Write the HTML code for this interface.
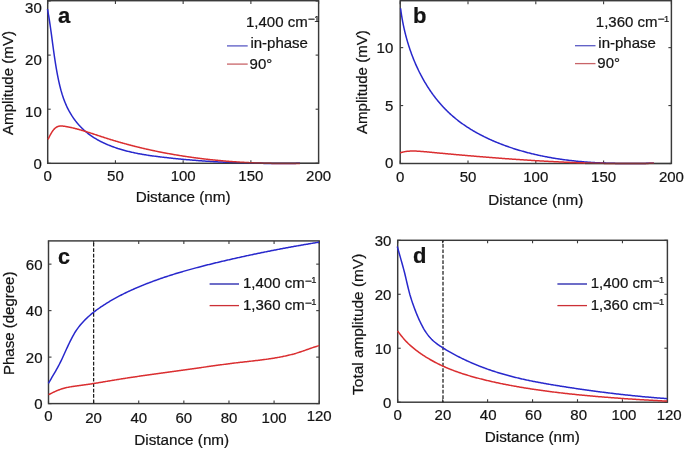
<!DOCTYPE html><html><head><meta charset="utf-8"><style>html,body{margin:0;padding:0;background:#fff;width:685px;height:449px;overflow:hidden}svg{display:block;filter:blur(0.3px)}text{font-family:"Liberation Sans", sans-serif;fill:#141414;stroke:#141414;stroke-width:0.22px}</style></head><body>
<svg width="685" height="449" viewBox="0 0 685 449">
<rect width="685" height="449" fill="#fff"/>
<g stroke="#3a3a3a" stroke-width="1.10" fill="none">
<line x1="47.70" y1="163.30" x2="47.70" y2="160.30"/>
<line x1="47.70" y1="1.00" x2="47.70" y2="4.00"/>
<line x1="115.43" y1="163.30" x2="115.43" y2="160.30"/>
<line x1="115.43" y1="1.00" x2="115.43" y2="4.00"/>
<line x1="183.15" y1="163.30" x2="183.15" y2="160.30"/>
<line x1="183.15" y1="1.00" x2="183.15" y2="4.00"/>
<line x1="250.88" y1="163.30" x2="250.88" y2="160.30"/>
<line x1="250.88" y1="1.00" x2="250.88" y2="4.00"/>
<line x1="318.60" y1="163.30" x2="318.60" y2="160.30"/>
<line x1="318.60" y1="1.00" x2="318.60" y2="4.00"/>
<line x1="47.70" y1="163.30" x2="50.70" y2="163.30"/>
<line x1="318.60" y1="163.30" x2="315.60" y2="163.30"/>
<line x1="47.70" y1="109.20" x2="50.70" y2="109.20"/>
<line x1="318.60" y1="109.20" x2="315.60" y2="109.20"/>
<line x1="47.70" y1="55.10" x2="50.70" y2="55.10"/>
<line x1="318.60" y1="55.10" x2="315.60" y2="55.10"/>
<line x1="47.70" y1="1.00" x2="50.70" y2="1.00"/>
<line x1="318.60" y1="1.00" x2="315.60" y2="1.00"/>
</g>
<rect x="47.70" y="0.70" width="270.90" height="162.60" fill="none" stroke="#3a3a3a" stroke-width="1.45"/>
<path d="M47.49 9.08L47.64 9.94L47.80 10.81L47.96 11.67L48.11 12.53L48.26 13.40L48.41 14.26L48.56 15.13L48.70 15.99L48.84 16.86L48.98 17.72L49.12 18.59L49.26 19.45L49.39 20.32L49.53 21.19L49.66 22.05L49.79 22.92L49.92 23.79L50.05 24.66L50.17 25.52L50.30 26.39L50.43 27.26L50.55 28.13L50.67 29.00L50.79 29.87L50.91 30.73L51.03 31.60L51.15 32.47L51.27 33.34L51.39 34.21L51.51 35.08L51.62 35.95L51.74 36.82L51.86 37.69L51.97 38.56L52.09 39.43L52.21 40.30L52.32 41.17L52.44 42.05L52.55 42.92L52.67 43.79L52.79 44.66L52.90 45.53L53.02 46.40L53.14 47.27L53.26 48.15L53.37 49.02L53.49 49.89L53.61 50.76L53.73 51.63L53.86 52.51L53.98 53.38L54.10 54.25L54.23 55.12L54.35 56.00L54.48 56.87L54.61 57.74L54.74 58.61L54.87 59.49L55.00 60.36L55.13 61.23L55.27 62.10L55.40 62.98L55.54 63.85L55.68 64.72L55.83 65.59L55.97 66.47L56.12 67.34L56.26 68.21L56.41 69.09L56.57 69.96L56.72 70.83L56.88 71.70L57.04 72.58L57.20 73.45L57.36 74.32L57.53 75.19L57.70 76.07L57.87 76.94L58.05 77.81L58.23 78.68L58.41 79.55L58.59 80.43L58.78 81.30L58.97 82.17L59.17 83.03L59.37 83.90L59.57 84.77L59.78 85.64L59.99 86.50L60.21 87.36L60.43 88.22L60.66 89.08L60.89 89.94L61.12 90.80L61.37 91.65L61.61 92.50L61.87 93.35L62.12 94.20L62.39 95.04L62.66 95.88L62.94 96.72L63.22 97.56L63.51 98.39L63.81 99.22L64.11 100.04L64.42 100.87L64.74 101.69L65.06 102.50L65.40 103.31L65.74 104.12L66.09 104.92L66.44 105.72L66.81 106.52L67.18 107.31L67.56 108.10L67.95 108.88L68.35 109.65L68.75 110.43L69.17 111.19L69.59 111.96L70.02 112.71L70.46 113.46L70.91 114.21L71.37 114.95L71.83 115.69L72.31 116.41L72.79 117.14L73.28 117.86L73.78 118.57L74.28 119.27L74.80 119.97L75.32 120.66L75.85 121.35L76.39 122.03L76.93 122.70L77.49 123.37L78.05 124.03L78.62 124.68L79.20 125.33L79.79 125.96L80.38 126.60L80.98 127.22L81.59 127.83L82.21 128.44L82.83 129.04L83.46 129.64L84.10 130.22L84.75 130.80L85.41 131.37L86.07 131.93L86.74 132.48L87.42 133.02L88.10 133.56L88.79 134.09L89.49 134.61L90.20 135.12L90.91 135.62L91.63 136.12L92.35 136.60L93.08 137.08L93.82 137.56L94.56 138.02L95.31 138.48L96.07 138.93L96.82 139.37L97.59 139.80L98.36 140.23L99.13 140.65L99.91 141.06L100.70 141.47L101.48 141.87L102.28 142.26L103.07 142.65L103.87 143.03L104.68 143.40L105.49 143.76L106.30 144.12L107.11 144.47L107.93 144.82L108.75 145.16L109.57 145.49L110.40 145.82L111.23 146.14L112.06 146.45L112.89 146.76L113.73 147.07L114.57 147.36L115.41 147.66L116.25 147.94L117.09 148.22L117.93 148.50L118.78 148.76L119.62 149.03L120.47 149.29L121.32 149.54L122.17 149.79L123.02 150.03L123.87 150.27L124.73 150.50L125.58 150.73L126.44 150.95L127.29 151.17L128.15 151.39L129.01 151.60L129.87 151.80L130.73 152.00L131.59 152.20L132.45 152.39L133.31 152.58L134.17 152.77L135.04 152.95L135.90 153.12L136.77 153.30L137.63 153.47L138.50 153.64L139.37 153.80L140.24 153.96L141.11 154.11L141.98 154.27L142.85 154.42L143.72 154.57L144.59 154.71L145.46 154.85L146.33 154.99L147.20 155.13L148.08 155.26L148.95 155.39L149.82 155.52L150.70 155.65L151.57 155.77L152.45 155.89L153.32 156.01L154.20 156.13L155.07 156.25L155.95 156.36L156.83 156.47L157.70 156.58L158.58 156.69L159.45 156.80L160.33 156.91L161.21 157.01L162.08 157.12L162.96 157.22L163.84 157.32L164.71 157.42L165.59 157.52L166.47 157.62L167.34 157.72L168.22 157.82L169.10 157.91L169.97 158.01L170.85 158.10L171.72 158.19L172.60 158.29L173.48 158.38L174.35 158.47L175.23 158.56L176.11 158.65L176.98 158.74L177.86 158.82L178.73 158.91L179.61 158.99L180.49 159.08L181.36 159.16L182.24 159.24L183.12 159.32L183.99 159.41L184.87 159.48L185.74 159.56L186.62 159.64L187.50 159.72L188.37 159.79L189.25 159.87L190.12 159.94L191.00 160.02L191.88 160.09L192.75 160.16L193.63 160.23L194.50 160.30L195.38 160.37L196.26 160.44L197.13 160.51L198.01 160.58L198.89 160.64L199.76 160.71L200.64 160.77L201.51 160.83L202.39 160.90L203.27 160.96L204.14 161.02L205.02 161.08L205.90 161.14L206.77 161.20L207.65 161.26L208.52 161.31L209.40 161.37L210.28 161.42L211.15 161.48L212.03 161.53L212.91 161.58L213.78 161.64L214.66 161.69L215.54 161.74L216.41 161.79L217.29 161.84L218.17 161.88L219.04 161.93L219.92 161.98L220.80 162.02L221.67 162.07L222.55 162.11L223.43 162.16L224.31 162.20L225.18 162.24L226.06 162.28L226.94 162.32L227.81 162.36L228.69 162.40L229.57 162.44L230.45 162.48L231.32 162.51L232.20 162.55L233.08 162.58L233.96 162.62L234.83 162.65L235.71 162.69L236.59 162.72L237.47 162.75L238.35 162.78L239.22 162.81L240.10 162.84L240.98 162.87L241.86 162.90L242.74 162.92L243.62 162.95L244.49 162.98L245.37 163.00L246.25 163.03L247.13 163.05L248.01 163.07L248.89 163.10L249.77 163.12L250.65 163.14L251.53 163.16L252.40 163.18L253.28 163.20L254.16 163.22L255.04 163.23L255.92 163.25L256.80 163.27L257.68 163.28L258.56 163.30L259.44 163.31L260.32 163.33L261.20 163.34L262.08 163.35L262.96 163.36L263.84 163.38L264.72 163.39L265.60 163.40L266.48 163.41L267.37 163.41L268.25 163.42L269.13 163.43L270.01 163.44L270.89 163.44L271.77 163.45L272.65 163.45L273.53 163.46L274.42 163.46L275.30 163.46L276.18 163.47L277.06 163.47L277.94 163.47L278.83 163.47L279.71 163.47L280.59 163.47L281.47 163.47L282.36 163.47L283.24 163.47L284.12 163.46L285.01 163.46L285.89 163.46L286.77 163.45L287.66 163.45L288.54 163.44L289.42 163.44L290.31 163.43L291.19 163.42L292.08 163.41L292.96 163.41L293.85 163.40L294.73 163.39L295.62 163.38L296.50 163.37L297.39 163.36L298.27 163.34L299.16 163.33L300.04 163.32" stroke="#2828cc" stroke-width="1.50" fill="none" stroke-linejoin="round"/>
<path d="M48.00 139.42L48.27 138.88L48.55 138.32L48.84 137.73L49.14 137.14L49.44 136.53L49.76 135.91L50.08 135.28L50.41 134.66L50.76 134.03L51.11 133.40L51.48 132.79L51.85 132.18L52.24 131.58L52.64 131.00L53.05 130.43L53.48 129.89L53.92 129.37L54.37 128.88L54.84 128.42L55.32 128.00L55.81 127.61L56.32 127.26L56.85 126.95L57.39 126.69L57.95 126.48L58.52 126.31L59.11 126.18L59.71 126.09L60.31 126.03L60.93 126.01L61.56 126.01L62.20 126.04L62.84 126.09L63.48 126.16L64.13 126.24L64.78 126.34L65.43 126.45L66.09 126.56L66.74 126.68L67.39 126.80L68.04 126.92L68.69 127.05L69.33 127.18L69.98 127.31L70.63 127.45L71.27 127.59L71.92 127.73L72.56 127.88L73.20 128.03L73.84 128.18L74.48 128.34L75.12 128.50L75.76 128.66L76.40 128.82L77.04 128.99L77.68 129.16L78.31 129.33L78.95 129.51L79.58 129.68L80.22 129.86L80.85 130.04L81.49 130.22L82.12 130.41L82.75 130.59L83.39 130.78L84.02 130.97L84.65 131.16L85.28 131.35L85.91 131.55L86.54 131.74L87.17 131.94L87.80 132.14L88.43 132.34L89.06 132.54L89.69 132.74L90.31 132.94L90.94 133.15L91.57 133.35L92.20 133.56L92.82 133.76L93.45 133.97L94.08 134.17L94.71 134.38L95.33 134.59L95.96 134.80L96.59 135.00L97.21 135.21L97.84 135.42L98.47 135.63L99.09 135.84L99.72 136.04L100.35 136.25L100.98 136.46L101.60 136.67L102.23 136.87L102.86 137.08L103.48 137.28L104.11 137.49L104.74 137.69L105.37 137.89L106.00 138.09L106.63 138.30L107.26 138.50L107.89 138.69L108.52 138.89L109.15 139.09L109.78 139.29L110.41 139.48L111.04 139.68L111.67 139.87L112.30 140.06L112.93 140.25L113.56 140.44L114.19 140.63L114.83 140.82L115.46 141.01L116.09 141.20L116.72 141.39L117.36 141.57L117.99 141.76L118.62 141.94L119.26 142.12L119.89 142.30L120.53 142.48L121.16 142.66L121.79 142.84L122.43 143.02L123.06 143.20L123.70 143.38L124.34 143.55L124.97 143.73L125.61 143.90L126.24 144.07L126.88 144.25L127.52 144.42L128.15 144.59L128.79 144.76L129.43 144.93L130.07 145.09L130.70 145.26L131.34 145.43L131.98 145.59L132.62 145.76L133.26 145.92L133.90 146.08L134.53 146.24L135.17 146.41L135.81 146.57L136.45 146.72L137.09 146.88L137.73 147.04L138.37 147.20L139.01 147.35L139.65 147.51L140.30 147.66L140.94 147.82L141.58 147.97L142.22 148.12L142.86 148.27L143.50 148.42L144.14 148.57L144.79 148.72L145.43 148.86L146.07 149.01L146.71 149.16L147.36 149.30L148.00 149.45L148.64 149.59L149.29 149.73L149.93 149.87L150.58 150.01L151.22 150.15L151.86 150.29L152.51 150.43L153.15 150.57L153.80 150.71L154.44 150.84L155.09 150.98L155.73 151.11L156.38 151.24L157.02 151.38L157.67 151.51L158.32 151.64L158.96 151.77L159.61 151.90L160.26 152.03L160.90 152.16L161.55 152.28L162.20 152.41L162.84 152.54L163.49 152.66L164.14 152.78L164.79 152.91L165.43 153.03L166.08 153.15L166.73 153.27L167.38 153.39L168.03 153.51L168.67 153.63L169.32 153.75L169.97 153.86L170.62 153.98L171.27 154.09L171.92 154.21L172.57 154.32L173.22 154.43L173.87 154.55L174.52 154.66L175.17 154.77L175.82 154.88L176.47 154.99L177.12 155.10L177.77 155.20L178.42 155.31L179.07 155.42L179.72 155.52L180.37 155.63L181.02 155.73L181.67 155.83L182.33 155.93L182.98 156.04L183.63 156.14L184.28 156.24L184.93 156.34L185.59 156.43L186.24 156.53L186.89 156.63L187.54 156.72L188.20 156.82L188.85 156.91L189.50 157.01L190.15 157.10L190.81 157.19L191.46 157.29L192.11 157.38L192.77 157.47L193.42 157.56L194.07 157.65L194.73 157.73L195.38 157.82L196.04 157.91L196.69 157.99L197.34 158.08L198.00 158.16L198.65 158.25L199.31 158.33L199.96 158.41L200.62 158.49L201.27 158.57L201.93 158.65L202.58 158.73L203.24 158.81L203.89 158.89L204.55 158.97L205.20 159.04L205.86 159.12L206.51 159.20L207.17 159.27L207.82 159.34L208.48 159.42L209.13 159.49L209.79 159.56L210.45 159.63L211.10 159.70L211.76 159.77L212.41 159.84L213.07 159.91L213.73 159.98L214.38 160.04L215.04 160.11L215.70 160.18L216.35 160.24L217.01 160.30L217.67 160.37L218.32 160.43L218.98 160.49L219.64 160.55L220.30 160.61L220.95 160.67L221.61 160.73L222.27 160.79L222.92 160.85L223.58 160.91L224.24 160.96L224.90 161.02L225.55 161.08L226.21 161.13L226.87 161.18L227.53 161.24L228.19 161.29L228.84 161.34L229.50 161.39L230.16 161.45L230.82 161.50L231.48 161.54L232.13 161.59L232.79 161.64L233.45 161.69L234.11 161.74L234.77 161.78L235.42 161.83L236.08 161.87L236.74 161.92L237.40 161.96L238.06 162.00L238.72 162.05L239.38 162.09L240.03 162.13L240.69 162.17L241.35 162.21L242.01 162.25L242.67 162.29L243.33 162.32L243.99 162.36L244.65 162.40L245.30 162.43L245.96 162.47L246.62 162.51L247.28 162.54L247.94 162.57L248.60 162.61L249.26 162.64L249.92 162.67L250.58 162.70L251.23 162.73L251.89 162.76L252.55 162.79L253.21 162.82L253.87 162.85L254.53 162.88L255.19 162.90L255.85 162.93L256.51 162.95L257.17 162.98L257.83 163.00L258.48 163.03L259.14 163.05L259.80 163.07L260.46 163.10L261.12 163.12L261.78 163.14L262.44 163.16L263.10 163.18L263.76 163.20L264.42 163.22L265.08 163.23L265.74 163.25L266.39 163.27L267.05 163.28L267.71 163.30L268.37 163.32L269.03 163.33L269.69 163.34L270.35 163.36L271.01 163.37L271.67 163.38L272.33 163.39L272.99 163.41L273.64 163.42L274.30 163.43L274.96 163.44L275.62 163.44L276.28 163.45L276.94 163.46L277.60 163.47L278.26 163.47L278.91 163.48L279.57 163.49L280.23 163.49L280.89 163.50L281.55 163.50L282.21 163.50L282.87 163.51L283.53 163.51L284.18 163.51L284.84 163.51L285.50 163.51L286.16 163.51L286.82 163.51L287.48 163.51L288.13 163.51L288.79 163.51L289.45 163.50L290.11 163.50L290.77 163.50L291.42 163.49L292.08 163.49L292.74 163.48L293.40 163.48L294.06 163.47L294.71 163.47L295.37 163.46L296.03 163.45L296.69 163.44L297.34 163.43L298.00 163.42L298.66 163.41L299.32 163.40L299.97 163.39" stroke="#da2e30" stroke-width="1.50" fill="none" stroke-linejoin="round"/>
<line x1="225" y1="163.30" x2="318" y2="163.30" stroke="#3a3a3a" stroke-width="1.45" opacity="0.6"/>
<g stroke="#3a3a3a" stroke-width="1.10" fill="none">
<line x1="400.20" y1="163.50" x2="400.20" y2="160.50"/>
<line x1="400.20" y1="1.30" x2="400.20" y2="4.30"/>
<line x1="468.00" y1="163.50" x2="468.00" y2="160.50"/>
<line x1="468.00" y1="1.30" x2="468.00" y2="4.30"/>
<line x1="535.80" y1="163.50" x2="535.80" y2="160.50"/>
<line x1="535.80" y1="1.30" x2="535.80" y2="4.30"/>
<line x1="603.60" y1="163.50" x2="603.60" y2="160.50"/>
<line x1="603.60" y1="1.30" x2="603.60" y2="4.30"/>
<line x1="671.40" y1="163.50" x2="671.40" y2="160.50"/>
<line x1="671.40" y1="1.30" x2="671.40" y2="4.30"/>
<line x1="400.20" y1="163.50" x2="403.20" y2="163.50"/>
<line x1="671.40" y1="163.50" x2="668.40" y2="163.50"/>
<line x1="400.20" y1="105.57" x2="403.20" y2="105.57"/>
<line x1="671.40" y1="105.57" x2="668.40" y2="105.57"/>
<line x1="400.20" y1="47.64" x2="403.20" y2="47.64"/>
<line x1="671.40" y1="47.64" x2="668.40" y2="47.64"/>
</g>
<rect x="400.20" y="0.70" width="271.20" height="162.80" fill="none" stroke="#3a3a3a" stroke-width="1.45"/>
<path d="M400.58 8.24L400.68 9.05L400.78 9.87L400.89 10.68L401.00 11.50L401.12 12.31L401.24 13.13L401.36 13.95L401.48 14.76L401.61 15.58L401.74 16.40L401.88 17.21L402.02 18.03L402.16 18.85L402.30 19.66L402.45 20.48L402.60 21.30L402.76 22.12L402.92 22.94L403.08 23.75L403.24 24.57L403.41 25.39L403.58 26.20L403.76 27.02L403.93 27.84L404.12 28.65L404.30 29.47L404.49 30.29L404.68 31.10L404.88 31.92L405.08 32.73L405.28 33.54L405.48 34.36L405.69 35.17L405.90 35.98L406.12 36.80L406.34 37.61L406.56 38.42L406.79 39.23L407.02 40.04L407.25 40.85L407.48 41.65L407.72 42.46L407.97 43.27L408.21 44.07L408.46 44.88L408.72 45.68L408.97 46.48L409.23 47.29L409.50 48.09L409.77 48.89L410.04 49.68L410.31 50.48L410.59 51.28L410.87 52.07L411.15 52.87L411.44 53.66L411.73 54.45L412.03 55.24L412.33 56.03L412.63 56.81L412.94 57.60L413.25 58.38L413.56 59.17L413.88 59.95L414.20 60.73L414.52 61.51L414.85 62.28L415.18 63.06L415.51 63.83L415.85 64.60L416.19 65.37L416.53 66.14L416.88 66.91L417.24 67.67L417.59 68.43L417.95 69.19L418.31 69.95L418.68 70.71L419.05 71.46L419.42 72.22L419.80 72.97L420.18 73.71L420.57 74.46L420.95 75.21L421.35 75.95L421.74 76.69L422.14 77.42L422.54 78.16L422.95 78.89L423.36 79.62L423.77 80.35L424.19 81.08L424.61 81.80L425.04 82.52L425.47 83.24L425.90 83.96L426.33 84.67L426.77 85.38L427.22 86.09L427.66 86.79L428.11 87.50L428.57 88.20L429.03 88.89L429.49 89.59L429.95 90.28L430.42 90.97L430.89 91.65L431.37 92.34L431.85 93.02L432.34 93.69L432.82 94.37L433.32 95.04L433.81 95.71L434.31 96.37L434.81 97.03L435.32 97.69L435.83 98.34L436.34 99.00L436.86 99.65L437.38 100.29L437.91 100.93L438.44 101.57L438.97 102.21L439.51 102.84L440.05 103.47L440.59 104.09L441.14 104.71L441.69 105.33L442.25 105.94L442.81 106.55L443.37 107.16L443.94 107.76L444.51 108.36L445.09 108.96L445.67 109.55L446.25 110.14L446.84 110.72L447.43 111.30L448.02 111.88L448.62 112.45L449.22 113.02L449.83 113.58L450.44 114.14L451.05 114.70L451.67 115.25L452.29 115.80L452.92 116.34L453.55 116.88L454.18 117.42L454.82 117.95L455.46 118.47L456.10 119.00L456.75 119.52L457.40 120.03L458.06 120.54L458.72 121.05L459.38 121.55L460.04 122.05L460.71 122.55L461.38 123.04L462.06 123.53L462.74 124.01L463.42 124.49L464.10 124.97L464.79 125.44L465.48 125.91L466.18 126.37L466.87 126.83L467.57 127.29L468.28 127.74L468.98 128.19L469.69 128.64L470.40 129.08L471.11 129.52L471.83 129.95L472.55 130.38L473.27 130.81L473.99 131.23L474.72 131.65L475.45 132.07L476.18 132.48L476.92 132.89L477.65 133.30L478.39 133.70L479.13 134.10L479.87 134.50L480.62 134.89L481.37 135.28L482.11 135.66L482.87 136.04L483.62 136.42L484.37 136.80L485.13 137.17L485.89 137.54L486.65 137.90L487.41 138.26L488.18 138.62L488.94 138.97L489.71 139.33L490.48 139.67L491.25 140.02L492.02 140.36L492.80 140.70L493.57 141.03L494.35 141.37L495.13 141.70L495.90 142.02L496.69 142.34L497.47 142.66L498.25 142.98L499.03 143.29L499.82 143.60L500.60 143.91L501.39 144.22L502.18 144.52L502.97 144.81L503.76 145.11L504.55 145.40L505.34 145.69L506.13 145.98L506.93 146.26L507.72 146.54L508.51 146.82L509.31 147.09L510.10 147.37L510.90 147.64L511.70 147.90L512.49 148.16L513.29 148.43L514.09 148.68L514.89 148.94L515.69 149.19L516.49 149.44L517.29 149.69L518.09 149.93L518.90 150.17L519.70 150.41L520.50 150.65L521.31 150.88L522.11 151.11L522.92 151.34L523.72 151.56L524.53 151.79L525.34 152.01L526.14 152.22L526.95 152.44L527.76 152.65L528.57 152.86L529.38 153.07L530.19 153.27L531.00 153.48L531.81 153.68L532.62 153.87L533.43 154.07L534.24 154.26L535.06 154.45L535.87 154.64L536.69 154.82L537.50 155.01L538.31 155.19L539.13 155.36L539.95 155.54L540.76 155.71L541.58 155.88L542.40 156.05L543.21 156.22L544.03 156.38L544.85 156.54L545.67 156.70L546.49 156.86L547.31 157.01L548.13 157.17L548.95 157.32L549.77 157.47L550.59 157.61L551.41 157.76L552.24 157.90L553.06 158.04L553.88 158.18L554.70 158.31L555.53 158.44L556.35 158.58L557.18 158.70L558.00 158.83L558.83 158.96L559.65 159.08L560.48 159.20L561.30 159.32L562.13 159.44L562.96 159.55L563.78 159.66L564.61 159.77L565.44 159.88L566.27 159.99L567.10 160.10L567.92 160.20L568.75 160.30L569.58 160.40L570.41 160.50L571.24 160.59L572.07 160.69L572.90 160.78L573.73 160.87L574.56 160.96L575.40 161.05L576.23 161.13L577.06 161.22L577.89 161.30L578.72 161.38L579.55 161.46L580.39 161.53L581.22 161.61L582.05 161.68L582.89 161.75L583.72 161.82L584.55 161.89L585.39 161.96L586.22 162.02L587.06 162.08L587.89 162.15L588.72 162.21L589.56 162.26L590.39 162.32L591.23 162.38L592.06 162.43L592.90 162.48L593.74 162.54L594.57 162.59L595.41 162.63L596.24 162.68L597.08 162.73L597.92 162.77L598.75 162.81L599.59 162.85L600.42 162.89L601.26 162.93L602.10 162.97L602.93 163.01L603.77 163.04L604.61 163.07L605.45 163.10L606.28 163.14L607.12 163.17L607.96 163.19L608.80 163.22L609.63 163.25L610.47 163.27L611.31 163.29L612.15 163.32L612.98 163.34L613.82 163.36L614.66 163.37L615.50 163.39L616.33 163.41L617.17 163.42L618.01 163.44L618.85 163.45L619.69 163.46L620.52 163.47L621.36 163.48L622.20 163.49L623.04 163.50L623.87 163.51L624.71 163.51L625.55 163.52L626.39 163.52L627.22 163.53L628.06 163.53L628.90 163.53L629.74 163.53L630.57 163.53L631.41 163.53L632.25 163.53L633.09 163.52L633.92 163.52L634.76 163.52L635.60 163.51L636.43 163.50L637.27 163.50L638.11 163.49L638.94 163.48L639.78 163.47L640.62 163.46L641.45 163.45L642.29 163.44L643.12 163.43L643.96 163.41L644.79 163.40L645.63 163.39L646.47 163.37L647.30 163.36L648.14 163.34L648.97 163.32L649.80 163.31L650.64 163.29L651.47 163.27L652.31 163.25L653.14 163.23L653.98 163.21" stroke="#2828cc" stroke-width="1.50" fill="none" stroke-linejoin="round"/>
<path d="M400.11 152.91L400.71 152.70L401.32 152.50L401.93 152.32L402.54 152.16L403.15 152.01L403.76 151.87L404.38 151.74L405.00 151.63L405.62 151.53L406.24 151.44L406.86 151.36L407.49 151.29L408.11 151.23L408.74 151.18L409.37 151.14L410.00 151.11L410.63 151.09L411.26 151.07L411.89 151.06L412.52 151.05L413.16 151.05L413.79 151.06L414.42 151.07L415.06 151.08L415.69 151.10L416.33 151.12L416.97 151.15L417.60 151.18L418.24 151.21L418.87 151.25L419.51 151.29L420.15 151.33L420.79 151.38L421.42 151.42L422.06 151.47L422.70 151.52L423.34 151.58L423.98 151.63L424.61 151.69L425.25 151.75L425.89 151.81L426.53 151.87L427.17 151.93L427.81 151.99L428.44 152.05L429.08 152.11L429.72 152.17L430.36 152.23L431.00 152.29L431.63 152.35L432.27 152.41L432.91 152.47L433.55 152.53L434.18 152.59L434.82 152.65L435.46 152.71L436.10 152.77L436.73 152.83L437.37 152.89L438.01 152.95L438.64 153.01L439.28 153.07L439.92 153.13L440.55 153.19L441.19 153.25L441.83 153.30L442.46 153.36L443.10 153.42L443.74 153.48L444.37 153.54L445.01 153.60L445.65 153.66L446.28 153.71L446.92 153.77L447.55 153.83L448.19 153.89L448.83 153.95L449.46 154.00L450.10 154.06L450.73 154.12L451.37 154.18L452.01 154.23L452.64 154.29L453.28 154.35L453.91 154.40L454.55 154.46L455.18 154.52L455.82 154.58L456.46 154.63L457.09 154.69L457.73 154.74L458.36 154.80L459.00 154.86L459.63 154.91L460.27 154.97L460.90 155.02L461.54 155.08L462.18 155.14L462.81 155.19L463.45 155.25L464.08 155.30L464.72 155.36L465.35 155.41L465.99 155.47L466.62 155.52L467.26 155.58L467.89 155.63L468.53 155.69L469.16 155.74L469.80 155.79L470.44 155.85L471.07 155.90L471.71 155.96L472.34 156.01L472.98 156.06L473.61 156.12L474.25 156.17L474.88 156.23L475.52 156.28L476.16 156.33L476.79 156.38L477.43 156.44L478.06 156.49L478.70 156.54L479.33 156.60L479.97 156.65L480.60 156.70L481.24 156.75L481.88 156.80L482.51 156.86L483.15 156.91L483.78 156.96L484.42 157.01L485.05 157.06L485.69 157.11L486.33 157.16L486.96 157.22L487.60 157.27L488.23 157.32L488.87 157.37L489.51 157.42L490.14 157.47L490.78 157.52L491.41 157.57L492.05 157.62L492.69 157.67L493.32 157.72L493.96 157.77L494.59 157.82L495.23 157.87L495.87 157.92L496.50 157.96L497.14 158.01L497.78 158.06L498.41 158.11L499.05 158.16L499.68 158.21L500.32 158.25L500.96 158.30L501.59 158.35L502.23 158.40L502.87 158.44L503.50 158.49L504.14 158.54L504.77 158.59L505.41 158.63L506.05 158.68L506.68 158.73L507.32 158.77L507.96 158.82L508.59 158.86L509.23 158.91L509.87 158.96L510.50 159.00L511.14 159.05L511.78 159.09L512.41 159.14L513.05 159.18L513.69 159.23L514.32 159.27L514.96 159.31L515.60 159.36L516.23 159.40L516.87 159.45L517.51 159.49L518.14 159.53L518.78 159.58L519.42 159.62L520.05 159.66L520.69 159.70L521.33 159.75L521.96 159.79L522.60 159.83L523.24 159.87L523.87 159.92L524.51 159.96L525.15 160.00L525.79 160.04L526.42 160.08L527.06 160.12L527.70 160.16L528.33 160.20L528.97 160.24L529.61 160.28L530.24 160.32L530.88 160.36L531.52 160.40L532.15 160.44L532.79 160.48L533.43 160.52L534.07 160.56L534.70 160.60L535.34 160.63L535.98 160.67L536.61 160.71L537.25 160.75L537.89 160.78L538.53 160.82L539.16 160.86L539.80 160.90L540.44 160.93L541.08 160.97L541.71 161.01L542.35 161.04L542.99 161.08L543.62 161.11L544.26 161.15L544.90 161.18L545.54 161.22L546.17 161.25L546.81 161.29L547.45 161.32L548.09 161.36L548.72 161.39L549.36 161.42L550.00 161.46L550.64 161.49L551.27 161.52L551.91 161.55L552.55 161.59L553.19 161.62L553.82 161.65L554.46 161.68L555.10 161.71L555.74 161.75L556.37 161.78L557.01 161.81L557.65 161.84L558.29 161.87L558.92 161.90L559.56 161.93L560.20 161.96L560.84 161.99L561.47 162.02L562.11 162.05L562.75 162.08L563.39 162.10L564.02 162.13L564.66 162.16L565.30 162.19L565.94 162.22L566.57 162.24L567.21 162.27L567.85 162.30L568.49 162.32L569.13 162.35L569.76 162.38L570.40 162.40L571.04 162.43L571.68 162.45L572.31 162.48L572.95 162.50L573.59 162.53L574.23 162.55L574.87 162.57L575.50 162.60L576.14 162.62L576.78 162.65L577.42 162.67L578.05 162.69L578.69 162.71L579.33 162.74L579.97 162.76L580.61 162.78L581.24 162.80L581.88 162.82L582.52 162.84L583.16 162.86L583.80 162.88L584.43 162.90L585.07 162.92L585.71 162.94L586.35 162.96L586.99 162.98L587.62 163.00L588.26 163.02L588.90 163.04L589.54 163.05L590.18 163.07L590.81 163.09L591.45 163.11L592.09 163.12L592.73 163.14L593.37 163.15L594.00 163.17L594.64 163.19L595.28 163.20L595.92 163.22L596.56 163.23L597.19 163.25L597.83 163.26L598.47 163.27L599.11 163.29L599.75 163.30L600.38 163.31L601.02 163.33L601.66 163.34L602.30 163.35L602.94 163.36L603.58 163.37L604.21 163.39L604.85 163.40L605.49 163.41L606.13 163.42L606.77 163.43L607.40 163.44L608.04 163.45L608.68 163.46L609.32 163.46L609.96 163.47L610.60 163.48L611.23 163.49L611.87 163.50L612.51 163.50L613.15 163.51L613.79 163.52L614.43 163.52L615.06 163.53L615.70 163.53L616.34 163.54L616.98 163.55L617.62 163.55L618.25 163.55L618.89 163.56L619.53 163.56L620.17 163.57L620.81 163.57L621.45 163.57L622.08 163.57L622.72 163.58L623.36 163.58L624.00 163.58L624.64 163.58L625.28 163.58L625.91 163.58L626.55 163.58L627.19 163.58L627.83 163.58L628.47 163.58L629.11 163.58L629.74 163.58L630.38 163.58L631.02 163.57L631.66 163.57L632.30 163.57L632.94 163.57L633.57 163.56L634.21 163.56L634.85 163.55L635.49 163.55L636.13 163.54L636.77 163.54L637.40 163.53L638.04 163.53L638.68 163.52L639.32 163.51L639.96 163.51L640.60 163.50L641.23 163.49L641.87 163.48L642.51 163.48L643.15 163.47L643.79 163.46L644.43 163.45L645.06 163.44L645.70 163.43L646.34 163.42L646.98 163.41L647.62 163.40L648.26 163.39L648.89 163.37L649.53 163.36L650.17 163.35L650.81 163.34L651.45 163.32L652.09 163.31L652.73 163.29L653.36 163.28L654.00 163.26" stroke="#da2e30" stroke-width="1.50" fill="none" stroke-linejoin="round"/>
<line x1="585" y1="163.50" x2="671" y2="163.50" stroke="#3a3a3a" stroke-width="1.45" opacity="0.6"/>
<g stroke="#3a3a3a" stroke-width="1.10" fill="none">
<line x1="48.50" y1="403.60" x2="48.50" y2="400.60"/>
<line x1="48.50" y1="240.90" x2="48.50" y2="243.90"/>
<line x1="93.62" y1="403.60" x2="93.62" y2="400.60"/>
<line x1="93.62" y1="240.90" x2="93.62" y2="243.90"/>
<line x1="138.73" y1="403.60" x2="138.73" y2="400.60"/>
<line x1="138.73" y1="240.90" x2="138.73" y2="243.90"/>
<line x1="183.85" y1="403.60" x2="183.85" y2="400.60"/>
<line x1="183.85" y1="240.90" x2="183.85" y2="243.90"/>
<line x1="228.97" y1="403.60" x2="228.97" y2="400.60"/>
<line x1="228.97" y1="240.90" x2="228.97" y2="243.90"/>
<line x1="274.08" y1="403.60" x2="274.08" y2="400.60"/>
<line x1="274.08" y1="240.90" x2="274.08" y2="243.90"/>
<line x1="319.20" y1="403.60" x2="319.20" y2="400.60"/>
<line x1="319.20" y1="240.90" x2="319.20" y2="243.90"/>
<line x1="48.50" y1="403.60" x2="51.50" y2="403.60"/>
<line x1="319.20" y1="403.60" x2="316.20" y2="403.60"/>
<line x1="48.50" y1="357.11" x2="51.50" y2="357.11"/>
<line x1="319.20" y1="357.11" x2="316.20" y2="357.11"/>
<line x1="48.50" y1="310.63" x2="51.50" y2="310.63"/>
<line x1="319.20" y1="310.63" x2="316.20" y2="310.63"/>
<line x1="48.50" y1="264.14" x2="51.50" y2="264.14"/>
<line x1="319.20" y1="264.14" x2="316.20" y2="264.14"/>
</g>
<rect x="48.50" y="240.90" width="270.70" height="162.70" fill="none" stroke="#3a3a3a" stroke-width="1.45"/>
<line x1="93.62" y1="240.90" x2="93.62" y2="403.60" stroke="#1e1e1e" stroke-width="1.25" stroke-dasharray="3.7 1.7" stroke-dashoffset="3.40"/>
<path d="M48.40 383.48L49.31 381.89L50.21 380.32L51.12 378.76L52.02 377.20L52.93 375.66L53.83 374.11L54.74 372.57L55.64 371.01L56.55 369.44L57.45 367.83L58.36 366.18L59.26 364.48L60.17 362.71L61.07 360.87L61.98 358.97L62.88 357.02L63.79 355.05L64.69 353.05L65.60 351.05L66.50 349.06L67.41 347.09L68.31 345.15L69.22 343.24L70.12 341.38L71.03 339.56L71.93 337.81L72.84 336.12L73.74 334.51L74.65 332.97L75.55 331.52L76.46 330.14L77.36 328.83L78.27 327.59L79.17 326.41L80.08 325.28L80.98 324.20L81.89 323.16L82.79 322.17L83.70 321.21L84.60 320.27L85.51 319.37L86.41 318.49L87.32 317.63L88.22 316.80L89.13 315.99L90.03 315.20L90.94 314.43L91.84 313.68L92.75 312.95L93.65 312.23L94.56 311.54L95.46 310.85L96.37 310.18L97.27 309.52L98.18 308.88L99.08 308.24L99.99 307.61L100.89 306.99L101.80 306.38L102.70 305.78L103.61 305.18L104.51 304.60L105.42 304.02L106.32 303.45L107.23 302.88L108.13 302.32L109.04 301.77L109.94 301.23L110.85 300.70L111.75 300.17L112.66 299.64L113.56 299.13L114.47 298.62L115.37 298.11L116.28 297.62L117.18 297.13L118.09 296.64L118.99 296.16L119.90 295.69L120.80 295.22L121.71 294.76L122.61 294.30L123.52 293.85L124.42 293.40L125.33 292.96L126.23 292.52L127.14 292.09L128.04 291.66L128.95 291.24L129.85 290.82L130.76 290.41L131.66 290.00L132.57 289.59L133.47 289.19L134.38 288.79L135.28 288.40L136.19 288.01L137.09 287.62L138.00 287.24L138.90 286.86L139.81 286.48L140.71 286.10L141.62 285.73L142.52 285.36L143.43 285.00L144.33 284.64L145.24 284.28L146.14 283.92L147.05 283.57L147.95 283.21L148.86 282.87L149.76 282.52L150.67 282.18L151.57 281.84L152.48 281.50L153.38 281.16L154.29 280.83L155.19 280.50L156.10 280.17L157.00 279.85L157.91 279.52L158.81 279.20L159.72 278.89L160.62 278.57L161.53 278.26L162.43 277.95L163.34 277.64L164.24 277.33L165.15 277.03L166.05 276.73L166.96 276.43L167.86 276.13L168.77 275.84L169.67 275.55L170.58 275.26L171.48 274.97L172.39 274.68L173.29 274.40L174.20 274.11L175.10 273.83L176.01 273.56L176.91 273.28L177.82 273.00L178.72 272.73L179.63 272.46L180.53 272.19L181.44 271.93L182.34 271.66L183.25 271.40L184.15 271.13L185.06 270.87L185.96 270.62L186.87 270.36L187.77 270.10L188.68 269.85L189.58 269.60L190.49 269.35L191.39 269.10L192.30 268.85L193.20 268.61L194.11 268.36L195.01 268.12L195.92 267.88L196.82 267.64L197.73 267.40L198.63 267.16L199.54 266.92L200.44 266.69L201.35 266.45L202.25 266.22L203.16 265.99L204.06 265.76L204.97 265.53L205.87 265.30L206.78 265.07L207.68 264.85L208.59 264.62L209.49 264.40L210.40 264.17L211.30 263.95L212.21 263.73L213.11 263.51L214.02 263.29L214.92 263.07L215.83 262.85L216.73 262.63L217.64 262.42L218.54 262.20L219.45 261.99L220.35 261.77L221.26 261.56L222.16 261.34L223.07 261.13L223.97 260.92L224.88 260.71L225.78 260.50L226.69 260.29L227.59 260.08L228.50 259.87L229.40 259.66L230.31 259.46L231.21 259.25L232.12 259.04L233.02 258.84L233.93 258.63L234.83 258.43L235.74 258.22L236.64 258.02L237.55 257.82L238.45 257.62L239.36 257.42L240.26 257.22L241.17 257.02L242.07 256.82L242.98 256.62L243.88 256.42L244.79 256.22L245.69 256.03L246.60 255.83L247.50 255.64L248.41 255.44L249.31 255.25L250.22 255.06L251.12 254.86L252.03 254.67L252.93 254.48L253.84 254.29L254.74 254.10L255.65 253.91L256.55 253.72L257.46 253.53L258.36 253.34L259.27 253.16L260.17 252.97L261.08 252.79L261.98 252.60L262.89 252.42L263.79 252.23L264.70 252.05L265.60 251.87L266.51 251.68L267.41 251.50L268.32 251.32L269.22 251.14L270.13 250.96L271.03 250.78L271.94 250.61L272.84 250.43L273.75 250.25L274.65 250.08L275.56 249.90L276.46 249.72L277.37 249.55L278.27 249.38L279.18 249.20L280.08 249.03L280.99 248.86L281.89 248.69L282.80 248.52L283.70 248.35L284.61 248.18L285.51 248.01L286.42 247.84L287.32 247.67L288.23 247.51L289.13 247.34L290.04 247.17L290.94 247.01L291.85 246.84L292.75 246.68L293.66 246.52L294.56 246.35L295.47 246.19L296.37 246.03L297.28 245.87L298.18 245.71L299.09 245.55L299.99 245.39L300.90 245.23L301.80 245.07L302.71 244.92L303.61 244.76L304.52 244.60L305.42 244.45L306.33 244.29L307.23 244.14L308.14 243.99L309.04 243.83L309.95 243.68L310.85 243.53L311.76 243.38L312.66 243.23L313.57 243.08L314.47 242.93L315.38 242.78L316.28 242.63L317.19 242.48L318.09 242.34L319.00 242.19" stroke="#2828cc" stroke-width="1.50" fill="none" stroke-linejoin="round"/>
<path d="M48.60 394.68L49.50 394.22L50.41 393.77L51.31 393.32L52.22 392.87L53.12 392.43L54.03 392.00L54.93 391.58L55.84 391.17L56.74 390.78L57.65 390.39L58.55 390.03L59.46 389.68L60.36 389.35L61.27 389.05L62.17 388.76L63.07 388.49L63.98 388.24L64.88 388.00L65.79 387.78L66.69 387.57L67.60 387.38L68.50 387.20L69.41 387.03L70.31 386.87L71.22 386.72L72.12 386.57L73.03 386.43L73.93 386.30L74.84 386.18L75.74 386.06L76.65 385.94L77.55 385.82L78.45 385.70L79.36 385.58L80.26 385.47L81.17 385.34L82.07 385.22L82.98 385.10L83.88 384.97L84.79 384.84L85.69 384.71L86.60 384.58L87.50 384.44L88.41 384.31L89.31 384.17L90.22 384.03L91.12 383.89L92.02 383.75L92.93 383.61L93.83 383.47L94.74 383.32L95.64 383.18L96.55 383.03L97.45 382.89L98.36 382.74L99.26 382.59L100.17 382.44L101.07 382.29L101.98 382.14L102.88 381.99L103.79 381.84L104.69 381.69L105.59 381.53L106.50 381.38L107.40 381.23L108.31 381.08L109.21 380.93L110.12 380.77L111.02 380.62L111.93 380.47L112.83 380.32L113.74 380.17L114.64 380.02L115.55 379.87L116.45 379.72L117.36 379.57L118.26 379.42L119.17 379.27L120.07 379.13L120.97 378.98L121.88 378.84L122.78 378.69L123.69 378.55L124.59 378.41L125.50 378.27L126.40 378.13L127.31 377.99L128.21 377.85L129.12 377.71L130.02 377.58L130.93 377.44L131.83 377.30L132.74 377.17L133.64 377.03L134.54 376.90L135.45 376.77L136.35 376.64L137.26 376.50L138.16 376.37L139.07 376.24L139.97 376.11L140.88 375.98L141.78 375.85L142.69 375.72L143.59 375.59L144.50 375.47L145.40 375.34L146.31 375.21L147.21 375.08L148.12 374.96L149.02 374.83L149.92 374.71L150.83 374.58L151.73 374.46L152.64 374.33L153.54 374.21L154.45 374.08L155.35 373.96L156.26 373.83L157.16 373.71L158.07 373.58L158.97 373.46L159.88 373.34L160.78 373.21L161.69 373.09L162.59 372.97L163.49 372.84L164.40 372.72L165.30 372.60L166.21 372.47L167.11 372.35L168.02 372.23L168.92 372.10L169.83 371.98L170.73 371.85L171.64 371.73L172.54 371.61L173.45 371.48L174.35 371.36L175.26 371.23L176.16 371.11L177.06 370.98L177.97 370.85L178.87 370.73L179.78 370.60L180.68 370.48L181.59 370.35L182.49 370.22L183.40 370.09L184.30 369.97L185.21 369.84L186.11 369.71L187.02 369.58L187.92 369.45L188.83 369.32L189.73 369.19L190.64 369.06L191.54 368.93L192.44 368.81L193.35 368.68L194.25 368.55L195.16 368.42L196.06 368.29L196.97 368.16L197.87 368.03L198.78 367.90L199.68 367.77L200.59 367.64L201.49 367.51L202.40 367.38L203.30 367.25L204.21 367.12L205.11 366.99L206.01 366.87L206.92 366.74L207.82 366.61L208.73 366.48L209.63 366.36L210.54 366.23L211.44 366.10L212.35 365.98L213.25 365.85L214.16 365.72L215.06 365.60L215.97 365.47L216.87 365.35L217.78 365.23L218.68 365.10L219.58 364.98L220.49 364.86L221.39 364.74L222.30 364.62L223.20 364.49L224.11 364.37L225.01 364.26L225.92 364.14L226.82 364.02L227.73 363.90L228.63 363.79L229.54 363.67L230.44 363.56L231.35 363.44L232.25 363.33L233.16 363.21L234.06 363.10L234.96 362.99L235.87 362.88L236.77 362.77L237.68 362.67L238.58 362.56L239.49 362.45L240.39 362.35L241.30 362.24L242.20 362.14L243.11 362.04L244.01 361.93L244.92 361.83L245.82 361.73L246.73 361.63L247.63 361.53L248.53 361.43L249.44 361.33L250.34 361.23L251.25 361.12L252.15 361.02L253.06 360.92L253.96 360.82L254.87 360.71L255.77 360.61L256.68 360.50L257.58 360.40L258.49 360.29L259.39 360.18L260.30 360.07L261.20 359.96L262.11 359.84L263.01 359.73L263.91 359.61L264.82 359.49L265.72 359.37L266.63 359.25L267.53 359.12L268.44 358.99L269.34 358.86L270.25 358.73L271.15 358.59L272.06 358.45L272.96 358.31L273.87 358.16L274.77 358.01L275.68 357.86L276.58 357.70L277.48 357.54L278.39 357.38L279.29 357.21L280.20 357.04L281.10 356.87L282.01 356.69L282.91 356.51L283.82 356.32L284.72 356.13L285.63 355.93L286.53 355.73L287.44 355.52L288.34 355.31L289.25 355.09L290.15 354.87L291.05 354.64L291.96 354.40L292.86 354.16L293.77 353.92L294.67 353.66L295.58 353.41L296.48 353.14L297.39 352.87L298.29 352.59L299.20 352.31L300.10 352.01L301.01 351.71L301.91 351.41L302.82 351.10L303.72 350.78L304.63 350.47L305.53 350.14L306.43 349.82L307.34 349.50L308.24 349.18L309.15 348.85L310.05 348.53L310.96 348.22L311.86 347.90L312.77 347.59L313.67 347.29L314.58 346.99L315.48 346.70L316.39 346.42L317.29 346.15L318.20 345.89L319.10 345.64" stroke="#da2e30" stroke-width="1.50" fill="none" stroke-linejoin="round"/>
<g stroke="#3a3a3a" stroke-width="1.10" fill="none">
<line x1="397.70" y1="402.20" x2="397.70" y2="399.20"/>
<line x1="397.70" y1="240.30" x2="397.70" y2="243.30"/>
<line x1="442.65" y1="402.20" x2="442.65" y2="399.20"/>
<line x1="442.65" y1="240.30" x2="442.65" y2="243.30"/>
<line x1="487.60" y1="402.20" x2="487.60" y2="399.20"/>
<line x1="487.60" y1="240.30" x2="487.60" y2="243.30"/>
<line x1="532.55" y1="402.20" x2="532.55" y2="399.20"/>
<line x1="532.55" y1="240.30" x2="532.55" y2="243.30"/>
<line x1="577.50" y1="402.20" x2="577.50" y2="399.20"/>
<line x1="577.50" y1="240.30" x2="577.50" y2="243.30"/>
<line x1="622.45" y1="402.20" x2="622.45" y2="399.20"/>
<line x1="622.45" y1="240.30" x2="622.45" y2="243.30"/>
<line x1="667.40" y1="402.20" x2="667.40" y2="399.20"/>
<line x1="667.40" y1="240.30" x2="667.40" y2="243.30"/>
<line x1="397.70" y1="402.20" x2="400.70" y2="402.20"/>
<line x1="667.40" y1="402.20" x2="664.40" y2="402.20"/>
<line x1="397.70" y1="348.23" x2="400.70" y2="348.23"/>
<line x1="667.40" y1="348.23" x2="664.40" y2="348.23"/>
<line x1="397.70" y1="294.27" x2="400.70" y2="294.27"/>
<line x1="667.40" y1="294.27" x2="664.40" y2="294.27"/>
<line x1="397.70" y1="240.30" x2="400.70" y2="240.30"/>
<line x1="667.40" y1="240.30" x2="664.40" y2="240.30"/>
</g>
<rect x="397.70" y="240.30" width="269.70" height="161.90" fill="none" stroke="#3a3a3a" stroke-width="1.45"/>
<line x1="443.00" y1="240.30" x2="443.00" y2="402.20" stroke="#1e1e1e" stroke-width="1.25" stroke-dasharray="3.7 1.7" stroke-dashoffset="1.70"/>
<path d="M397.30 246.57L398.20 249.78L399.10 252.97L400.01 256.16L400.91 259.33L401.81 262.52L402.71 265.75L403.62 269.08L404.52 272.55L405.42 276.23L406.32 280.07L407.23 283.96L408.13 287.77L409.03 291.39L409.93 294.72L410.84 297.79L411.74 300.63L412.64 303.30L413.54 305.83L414.44 308.27L415.35 310.63L416.25 312.93L417.15 315.15L418.05 317.28L418.96 319.34L419.86 321.31L420.76 323.18L421.66 324.97L422.57 326.67L423.47 328.29L424.37 329.82L425.27 331.27L426.17 332.63L427.08 333.92L427.98 335.13L428.88 336.27L429.78 337.33L430.69 338.33L431.59 339.26L432.49 340.14L433.39 340.97L434.30 341.75L435.20 342.49L436.10 343.20L437.00 343.87L437.91 344.52L438.81 345.15L439.71 345.76L440.61 346.36L441.51 346.96L442.42 347.54L443.32 348.12L444.22 348.68L445.12 349.24L446.03 349.79L446.93 350.33L447.83 350.87L448.73 351.40L449.64 351.92L450.54 352.43L451.44 352.94L452.34 353.44L453.25 353.93L454.15 354.42L455.05 354.90L455.95 355.38L456.85 355.85L457.76 356.32L458.66 356.78L459.56 357.23L460.46 357.68L461.37 358.12L462.27 358.56L463.17 359.00L464.07 359.43L464.98 359.86L465.88 360.28L466.78 360.70L467.68 361.11L468.58 361.52L469.49 361.92L470.39 362.32L471.29 362.72L472.19 363.11L473.10 363.49L474.00 363.87L474.90 364.25L475.80 364.63L476.71 365.00L477.61 365.36L478.51 365.72L479.41 366.08L480.32 366.43L481.22 366.78L482.12 367.13L483.02 367.47L483.92 367.80L484.83 368.14L485.73 368.47L486.63 368.79L487.53 369.12L488.44 369.43L489.34 369.75L490.24 370.06L491.14 370.37L492.05 370.67L492.95 370.97L493.85 371.27L494.75 371.56L495.66 371.85L496.56 372.14L497.46 372.42L498.36 372.70L499.26 372.98L500.17 373.25L501.07 373.52L501.97 373.78L502.87 374.05L503.78 374.31L504.68 374.57L505.58 374.82L506.48 375.07L507.39 375.32L508.29 375.56L509.19 375.81L510.09 376.05L510.99 376.28L511.90 376.52L512.80 376.75L513.70 376.98L514.60 377.20L515.51 377.42L516.41 377.64L517.31 377.86L518.21 378.08L519.12 378.29L520.02 378.50L520.92 378.71L521.82 378.92L522.73 379.12L523.63 379.32L524.53 379.52L525.43 379.72L526.33 379.91L527.24 380.11L528.14 380.30L529.04 380.49L529.94 380.67L530.85 380.86L531.75 381.04L532.65 381.22L533.55 381.40L534.46 381.58L535.36 381.76L536.26 381.93L537.16 382.10L538.07 382.27L538.97 382.44L539.87 382.61L540.77 382.78L541.67 382.94L542.58 383.11L543.48 383.27L544.38 383.43L545.28 383.59L546.19 383.75L547.09 383.91L547.99 384.06L548.89 384.22L549.80 384.37L550.70 384.52L551.60 384.68L552.50 384.83L553.41 384.98L554.31 385.13L555.21 385.27L556.11 385.42L557.01 385.57L557.92 385.71L558.82 385.86L559.72 386.00L560.62 386.15L561.53 386.29L562.43 386.43L563.33 386.58L564.23 386.72L565.14 386.86L566.04 387.00L566.94 387.14L567.84 387.28L568.74 387.42L569.65 387.56L570.55 387.69L571.45 387.83L572.35 387.97L573.26 388.10L574.16 388.24L575.06 388.37L575.96 388.51L576.87 388.64L577.77 388.77L578.67 388.91L579.57 389.04L580.48 389.17L581.38 389.30L582.28 389.43L583.18 389.56L584.08 389.68L584.99 389.81L585.89 389.94L586.79 390.07L587.69 390.19L588.60 390.32L589.50 390.44L590.40 390.57L591.30 390.69L592.21 390.81L593.11 390.93L594.01 391.06L594.91 391.18L595.82 391.30L596.72 391.42L597.62 391.53L598.52 391.65L599.42 391.77L600.33 391.89L601.23 392.00L602.13 392.12L603.03 392.23L603.94 392.35L604.84 392.46L605.74 392.58L606.64 392.69L607.55 392.80L608.45 392.91L609.35 393.02L610.25 393.13L611.15 393.24L612.06 393.35L612.96 393.46L613.86 393.56L614.76 393.67L615.67 393.78L616.57 393.88L617.47 393.98L618.37 394.09L619.28 394.19L620.18 394.29L621.08 394.40L621.98 394.50L622.89 394.60L623.79 394.70L624.69 394.79L625.59 394.89L626.49 394.99L627.40 395.09L628.30 395.18L629.20 395.28L630.10 395.37L631.01 395.47L631.91 395.56L632.81 395.65L633.71 395.75L634.62 395.84L635.52 395.93L636.42 396.02L637.32 396.11L638.23 396.19L639.13 396.28L640.03 396.37L640.93 396.46L641.83 396.54L642.74 396.63L643.64 396.71L644.54 396.79L645.44 396.88L646.35 396.96L647.25 397.04L648.15 397.12L649.05 397.20L649.96 397.28L650.86 397.36L651.76 397.43L652.66 397.51L653.56 397.59L654.47 397.66L655.37 397.74L656.27 397.81L657.17 397.88L658.08 397.96L658.98 398.03L659.88 398.10L660.78 398.17L661.69 398.24L662.59 398.31L663.49 398.37L664.39 398.44L665.30 398.51L666.20 398.57L667.10 398.64" stroke="#2828cc" stroke-width="1.50" fill="none" stroke-linejoin="round"/>
<path d="M397.60 331.05L398.50 332.23L399.40 333.39L400.30 334.54L401.21 335.68L402.11 336.78L403.01 337.87L403.91 338.92L404.81 339.94L405.71 340.92L406.61 341.87L407.51 342.78L408.42 343.67L409.32 344.52L410.22 345.35L411.12 346.15L412.02 346.92L412.92 347.68L413.82 348.42L414.73 349.14L415.63 349.85L416.53 350.54L417.43 351.22L418.33 351.89L419.23 352.54L420.13 353.18L421.03 353.81L421.94 354.42L422.84 355.03L423.74 355.62L424.64 356.21L425.54 356.78L426.44 357.34L427.34 357.89L428.25 358.44L429.15 358.97L430.05 359.49L430.95 360.01L431.85 360.52L432.75 361.02L433.65 361.51L434.55 361.99L435.46 362.47L436.36 362.93L437.26 363.39L438.16 363.85L439.06 364.29L439.96 364.73L440.86 365.16L441.77 365.58L442.67 366.00L443.57 366.41L444.47 366.81L445.37 367.21L446.27 367.60L447.17 367.98L448.07 368.36L448.98 368.73L449.88 369.10L450.78 369.46L451.68 369.81L452.58 370.16L453.48 370.51L454.38 370.84L455.29 371.18L456.19 371.51L457.09 371.83L457.99 372.15L458.89 372.46L459.79 372.77L460.69 373.08L461.59 373.38L462.50 373.67L463.40 373.96L464.30 374.25L465.20 374.54L466.10 374.82L467.00 375.09L467.90 375.36L468.81 375.63L469.71 375.90L470.61 376.16L471.51 376.42L472.41 376.67L473.31 376.93L474.21 377.17L475.12 377.42L476.02 377.67L476.92 377.91L477.82 378.14L478.72 378.38L479.62 378.61L480.52 378.85L481.42 379.08L482.33 379.30L483.23 379.53L484.13 379.75L485.03 379.97L485.93 380.19L486.83 380.41L487.73 380.62L488.64 380.83L489.54 381.04L490.44 381.25L491.34 381.46L492.24 381.66L493.14 381.87L494.04 382.07L494.94 382.27L495.85 382.46L496.75 382.66L497.65 382.85L498.55 383.04L499.45 383.23L500.35 383.42L501.25 383.61L502.16 383.79L503.06 383.97L503.96 384.15L504.86 384.33L505.76 384.51L506.66 384.69L507.56 384.86L508.46 385.03L509.37 385.21L510.27 385.38L511.17 385.54L512.07 385.71L512.97 385.88L513.87 386.04L514.77 386.20L515.68 386.36L516.58 386.52L517.48 386.68L518.38 386.83L519.28 386.99L520.18 387.14L521.08 387.30L521.98 387.45L522.89 387.60L523.79 387.74L524.69 387.89L525.59 388.04L526.49 388.18L527.39 388.32L528.29 388.47L529.20 388.61L530.10 388.75L531.00 388.89L531.90 389.02L532.80 389.16L533.70 389.30L534.60 389.43L535.50 389.56L536.41 389.69L537.31 389.83L538.21 389.96L539.11 390.08L540.01 390.21L540.91 390.34L541.81 390.46L542.72 390.59L543.62 390.71L544.52 390.84L545.42 390.96L546.32 391.08L547.22 391.20L548.12 391.32L549.02 391.43L549.93 391.55L550.83 391.67L551.73 391.78L552.63 391.89L553.53 392.01L554.43 392.12L555.33 392.23L556.24 392.34L557.14 392.45L558.04 392.56L558.94 392.66L559.84 392.77L560.74 392.88L561.64 392.98L562.54 393.09L563.45 393.19L564.35 393.29L565.25 393.39L566.15 393.49L567.05 393.59L567.95 393.69L568.85 393.79L569.76 393.89L570.66 393.98L571.56 394.08L572.46 394.17L573.36 394.27L574.26 394.36L575.16 394.46L576.06 394.55L576.97 394.64L577.87 394.73L578.77 394.82L579.67 394.91L580.57 395.00L581.47 395.09L582.37 395.17L583.28 395.26L584.18 395.34L585.08 395.43L585.98 395.51L586.88 395.60L587.78 395.68L588.68 395.76L589.58 395.85L590.49 395.93L591.39 396.01L592.29 396.09L593.19 396.17L594.09 396.25L594.99 396.33L595.89 396.40L596.80 396.48L597.70 396.56L598.60 396.64L599.50 396.71L600.40 396.79L601.30 396.86L602.20 396.94L603.11 397.01L604.01 397.08L604.91 397.16L605.81 397.23L606.71 397.30L607.61 397.37L608.51 397.44L609.41 397.51L610.32 397.58L611.22 397.65L612.12 397.72L613.02 397.79L613.92 397.86L614.82 397.92L615.72 397.99L616.63 398.06L617.53 398.12L618.43 398.19L619.33 398.25L620.23 398.32L621.13 398.38L622.03 398.45L622.93 398.51L623.84 398.57L624.74 398.63L625.64 398.70L626.54 398.76L627.44 398.82L628.34 398.88L629.24 398.94L630.15 399.00L631.05 399.06L631.95 399.12L632.85 399.18L633.75 399.23L634.65 399.29L635.55 399.35L636.45 399.41L637.36 399.46L638.26 399.52L639.16 399.57L640.06 399.63L640.96 399.68L641.86 399.74L642.76 399.79L643.67 399.85L644.57 399.90L645.47 399.95L646.37 400.00L647.27 400.06L648.17 400.11L649.07 400.16L649.97 400.21L650.88 400.26L651.78 400.31L652.68 400.36L653.58 400.41L654.48 400.46L655.38 400.51L656.28 400.56L657.19 400.60L658.09 400.65L658.99 400.70L659.89 400.74L660.79 400.79L661.69 400.84L662.59 400.88L663.49 400.93L664.40 400.97L665.30 401.02L666.20 401.06L667.10 401.11" stroke="#da2e30" stroke-width="1.50" fill="none" stroke-linejoin="round"/>
<text x="41.80" y="168.60" font-size="15.00" text-anchor="end" font-weight="normal" >0</text>
<text x="41.80" y="116.80" font-size="15.00" text-anchor="end" font-weight="normal" >10</text>
<text x="41.80" y="64.70" font-size="15.00" text-anchor="end" font-weight="normal" >20</text>
<text x="41.80" y="12.60" font-size="15.00" text-anchor="end" font-weight="normal" >30</text>
<text x="47.70" y="181.00" font-size="15.00" text-anchor="middle" font-weight="normal" >0</text>
<text x="115.43" y="181.00" font-size="15.00" text-anchor="middle" font-weight="normal" >50</text>
<text x="183.15" y="181.00" font-size="15.00" text-anchor="middle" font-weight="normal" >100</text>
<text x="250.88" y="181.00" font-size="15.00" text-anchor="middle" font-weight="normal" >150</text>
<text x="318.60" y="181.00" font-size="15.00" text-anchor="middle" font-weight="normal" >200</text>
<text x="183.15" y="201.80" font-size="15.25" text-anchor="middle" font-weight="normal" >Distance (nm)</text>
<text x="13.00" y="83.00" font-size="15.10" text-anchor="middle" font-weight="normal" transform="rotate(-90 13.0 83.00)">Amplitude (mV)</text>
<text x="58.10" y="22.60" font-size="22.00" text-anchor="start" font-weight="bold" >a</text>
<text x="246.00" y="26.60" font-size="15.00" text-anchor="start" font-weight="normal" >1,400 cm<tspan font-size="12" dy="-3.4">−</tspan><tspan font-size="9.3" dy="-1.6" dx="-0.5">1</tspan></text>
<line x1="227.00" y1="45.90" x2="247.70" y2="45.90" stroke="#5a5ac4" stroke-width="1.30"/>
<line x1="227.00" y1="64.10" x2="247.70" y2="64.10" stroke="#c86468" stroke-width="1.30"/>
<text x="250.40" y="48.30" font-size="15.00" text-anchor="start" font-weight="normal" >in-phase</text>
<text x="249.60" y="68.50" font-size="15.00" text-anchor="start" font-weight="normal" >90°</text>
<text x="393.30" y="167.50" font-size="15.00" text-anchor="end" font-weight="normal" >0</text>
<text x="393.30" y="110.60" font-size="15.00" text-anchor="end" font-weight="normal" >5</text>
<text x="393.30" y="52.90" font-size="15.00" text-anchor="end" font-weight="normal" >10</text>
<text x="400.20" y="182.40" font-size="15.00" text-anchor="middle" font-weight="normal" >0</text>
<text x="468.00" y="182.40" font-size="15.00" text-anchor="middle" font-weight="normal" >50</text>
<text x="535.80" y="182.40" font-size="15.00" text-anchor="middle" font-weight="normal" >100</text>
<text x="603.60" y="182.40" font-size="15.00" text-anchor="middle" font-weight="normal" >150</text>
<text x="671.40" y="182.40" font-size="15.00" text-anchor="middle" font-weight="normal" >200</text>
<text x="535.80" y="204.70" font-size="15.25" text-anchor="middle" font-weight="normal" >Distance (nm)</text>
<text x="367.50" y="82.10" font-size="15.10" text-anchor="middle" font-weight="normal" transform="rotate(-90 367.5 82.10)">Amplitude (mV)</text>
<text x="413.10" y="22.80" font-size="22.00" text-anchor="start" font-weight="bold" >b</text>
<text x="595.80" y="26.70" font-size="15.00" text-anchor="start" font-weight="normal" >1,360 cm<tspan font-size="12" dy="-3.4">−</tspan><tspan font-size="9.3" dy="-1.6" dx="-0.5">1</tspan></text>
<line x1="575.00" y1="45.70" x2="595.50" y2="45.70" stroke="#5a5ac4" stroke-width="1.30"/>
<line x1="575.00" y1="63.60" x2="595.50" y2="63.60" stroke="#c86468" stroke-width="1.30"/>
<text x="598.30" y="48.30" font-size="15.00" text-anchor="start" font-weight="normal" >in-phase</text>
<text x="597.30" y="68.30" font-size="15.00" text-anchor="start" font-weight="normal" >90°</text>
<text x="42.50" y="409.00" font-size="15.00" text-anchor="end" font-weight="normal" >0</text>
<text x="42.50" y="362.51" font-size="15.00" text-anchor="end" font-weight="normal" >20</text>
<text x="42.50" y="316.03" font-size="15.00" text-anchor="end" font-weight="normal" >40</text>
<text x="42.50" y="269.54" font-size="15.00" text-anchor="end" font-weight="normal" >60</text>
<text x="48.50" y="421.20" font-size="15.00" text-anchor="middle" font-weight="normal" >0</text>
<text x="93.62" y="423.20" font-size="15.00" text-anchor="middle" font-weight="normal" >20</text>
<text x="138.73" y="423.20" font-size="15.00" text-anchor="middle" font-weight="normal" >40</text>
<text x="183.85" y="423.20" font-size="15.00" text-anchor="middle" font-weight="normal" >60</text>
<text x="228.97" y="423.20" font-size="15.00" text-anchor="middle" font-weight="normal" >80</text>
<text x="274.08" y="423.20" font-size="15.00" text-anchor="middle" font-weight="normal" >100</text>
<text x="319.20" y="421.20" font-size="15.00" text-anchor="middle" font-weight="normal" >120</text>
<text x="181.70" y="445.00" font-size="15.25" text-anchor="middle" font-weight="normal" >Distance (nm)</text>
<text x="13.80" y="323.30" font-size="15.00" text-anchor="middle" font-weight="normal" transform="rotate(-90 13.8 323.3)">Phase (degree)</text>
<text x="57.90" y="263.50" font-size="21.50" text-anchor="start" font-weight="bold" >c</text>
<line x1="209.60" y1="284.00" x2="239.00" y2="284.00" stroke="#1e1eaa" stroke-width="1.30"/>
<line x1="209.60" y1="305.60" x2="239.00" y2="305.60" stroke="#cc3036" stroke-width="1.30"/>
<text x="243.00" y="288.00" font-size="15.00" text-anchor="start" font-weight="normal" >1,400 cm<tspan font-size="12" dy="-3.4">−</tspan><tspan font-size="9.3" dy="-1.6" dx="-0.5">1</tspan></text>
<text x="243.00" y="310.10" font-size="15.00" text-anchor="start" font-weight="normal" >1,360 cm<tspan font-size="12" dy="-3.4">−</tspan><tspan font-size="9.3" dy="-1.6" dx="-0.5">1</tspan></text>
<text x="391.40" y="407.60" font-size="15.00" text-anchor="end" font-weight="normal" >0</text>
<text x="391.40" y="353.63" font-size="15.00" text-anchor="end" font-weight="normal" >10</text>
<text x="391.40" y="299.67" font-size="15.00" text-anchor="end" font-weight="normal" >20</text>
<text x="391.40" y="245.70" font-size="15.00" text-anchor="end" font-weight="normal" >30</text>
<text x="397.70" y="420.30" font-size="15.00" text-anchor="middle" font-weight="normal" >0</text>
<text x="442.95" y="420.30" font-size="15.00" text-anchor="middle" font-weight="normal" >20</text>
<text x="488.20" y="420.30" font-size="15.00" text-anchor="middle" font-weight="normal" >40</text>
<text x="533.45" y="420.30" font-size="15.00" text-anchor="middle" font-weight="normal" >60</text>
<text x="578.70" y="420.30" font-size="15.00" text-anchor="middle" font-weight="normal" >80</text>
<text x="623.95" y="420.30" font-size="15.00" text-anchor="middle" font-weight="normal" >100</text>
<text x="669.20" y="420.30" font-size="15.00" text-anchor="middle" font-weight="normal" >120</text>
<text x="532.30" y="441.80" font-size="15.25" text-anchor="middle" font-weight="normal" >Distance (nm)</text>
<text x="363.00" y="324.30" font-size="15.40" text-anchor="middle" font-weight="normal" transform="rotate(-90 363.0 324.3)">Total amplitude (mV)</text>
<text x="412.90" y="262.60" font-size="22.00" text-anchor="start" font-weight="bold" >d</text>
<line x1="557.40" y1="284.00" x2="587.00" y2="284.00" stroke="#1e1eaa" stroke-width="1.30"/>
<line x1="557.40" y1="305.60" x2="587.00" y2="305.60" stroke="#cc3036" stroke-width="1.30"/>
<text x="590.70" y="288.10" font-size="15.00" text-anchor="start" font-weight="normal" >1,400 cm<tspan font-size="12" dy="-3.4">−</tspan><tspan font-size="9.3" dy="-1.6" dx="-0.5">1</tspan></text>
<text x="590.70" y="310.10" font-size="15.00" text-anchor="start" font-weight="normal" >1,360 cm<tspan font-size="12" dy="-3.4">−</tspan><tspan font-size="9.3" dy="-1.6" dx="-0.5">1</tspan></text>
</svg></body></html>
